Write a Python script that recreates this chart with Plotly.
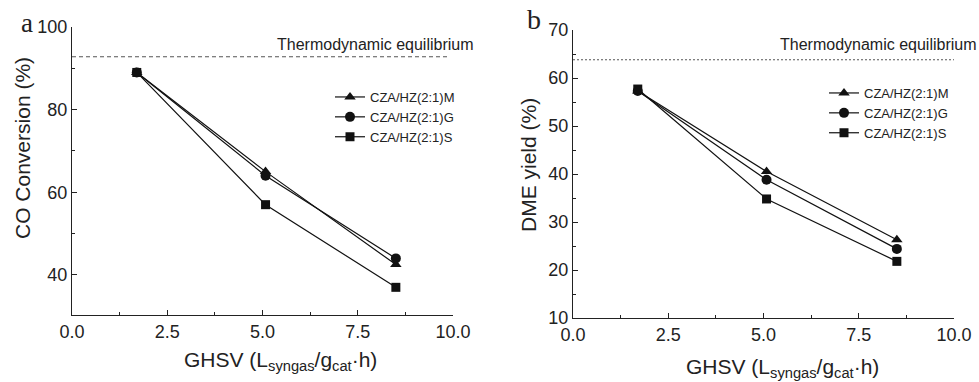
import plotly.graph_objects as go

W, H = 979, 382

ghsv = [1.7, 5.08, 8.5]
series_names = ["CZA/HZ(2:1)M", "CZA/HZ(2:1)G", "CZA/HZ(2:1)S"]
symbols = ["triangle-up", "circle", "square"]
co_conv_M = [89.0, 65.0, 42.5]
co_conv_G = [89.0, 64.0, 44.0]
co_conv_S = [89.0, 57.0, 37.0]
dme_M = [57.3, 40.5, 26.3]
dme_G = [57.3, 38.8, 24.4]
dme_S = [57.7, 34.8, 21.8]
co_equilibrium = 92.8
dme_equilibrium = 63.8
x_ticks = [0.0, 2.5, 5.0, 7.5, 10.0]
x_tick_labels = ["0.0", "2.5", "5.0", "7.5", "10.0"]
co_ticks = [40, 60, 80, 100]
dme_ticks = [10, 20, 30, 40, 50, 60, 70]

FONT = "Liberation Sans, Arial, sans-serif"
INK = "#222222"

fig = go.Figure()

left_series = [co_conv_M, co_conv_G, co_conv_S]
right_series = [dme_M, dme_G, dme_S]

for name, sym, ys in zip(series_names, symbols, left_series):
    fig.add_trace(go.Scatter(
        x=ghsv, y=ys, name=name, mode="lines+markers",
        line=dict(color="#111111", width=1.2),
        marker=dict(symbol=sym, size=10 if sym != "square" else 9, color="#111111"),
        xaxis="x", yaxis="y", legend="legend"))

for name, sym, ys in zip(series_names, symbols, right_series):
    fig.add_trace(go.Scatter(
        x=ghsv, y=ys, name=name, mode="lines+markers",
        line=dict(color="#111111", width=1.2),
        marker=dict(symbol=sym, size=10 if sym != "square" else 9, color="#111111"),
        xaxis="x2", yaxis="y2", legend="legend2"))

fig.add_trace(go.Scatter(x=[0.0, 9.9], y=[co_equilibrium, co_equilibrium], mode="lines",
                         line=dict(color="#555555", width=1.2, dash="4px,3px"),
                         showlegend=False, xaxis="x", yaxis="y", hoverinfo="skip"))
fig.add_trace(go.Scatter(x=[0.0, 10.0], y=[dme_equilibrium, dme_equilibrium], mode="lines",
                         line=dict(color="#555555", width=1.0, dash="2px,2px"),
                         showlegend=False, xaxis="x2", yaxis="y2", hoverinfo="skip"))

def px(x):
    return x / W

def py(y):
    return 1 - y / H

axis_common = dict(
    showline=True, linecolor=INK, linewidth=1.2, mirror=False,
    showgrid=False, zeroline=False, automargin=False,
    ticks="inside", ticklen=5, tickwidth=1, tickcolor=INK,
    tickfont=dict(family=FONT, size=18, color=INK),
)

fig.update_layout(
    width=W, height=H,
    margin=dict(l=0, r=0, t=0, b=0, pad=0, autoexpand=False),
    paper_bgcolor="white", plot_bgcolor="white",
    showlegend=True,
    xaxis=dict(domain=[px(72), px(453)], range=[0, 10], anchor="y",
               tickvals=x_ticks, ticktext=x_tick_labels,
               minor=dict(ticks="inside", ticklen=3, tickcolor=INK, dtick=1.25, tick0=0),
               **axis_common),
    yaxis=dict(domain=[py(315), py(27)], range=[30.3, 100], anchor="x",
               tickvals=co_ticks,
               minor=dict(ticks="inside", ticklen=3, tickcolor=INK, dtick=10, tick0=0),
               **axis_common),
    xaxis2=dict(domain=[px(573), px(954)], range=[0, 10], anchor="y2",
                tickvals=x_ticks, ticktext=x_tick_labels,
                minor=dict(ticks="inside", ticklen=3, tickcolor=INK, dtick=1.25, tick0=0),
                **axis_common),
    yaxis2=dict(domain=[py(318), py(30)], range=[10, 70], anchor="x2",
                tickvals=dme_ticks,
                minor=dict(ticks="inside", ticklen=3, tickcolor=INK, dtick=5, tick0=0),
                **axis_common),
    legend=dict(x=px(330), y=py(82), xanchor="left", yanchor="top",
                font=dict(family=FONT, size=13, color=INK),
                bgcolor="rgba(0,0,0,0)", itemwidth=30, tracegroupgap=0),
    legend2=dict(x=px(824), y=py(78), xanchor="left", yanchor="top",
                 font=dict(family=FONT, size=13, color=INK),
                 bgcolor="rgba(0,0,0,0)", itemwidth=30, tracegroupgap=0),
)

annotations = [
    dict(text="a", x=px(27), y=py(23), xanchor="center", yanchor="middle",
         font=dict(family="Liberation Serif, Times New Roman, serif", size=27, color=INK)),
    dict(text="b", x=px(534), y=py(20), xanchor="center", yanchor="middle",
         font=dict(family="Liberation Serif, Times New Roman, serif", size=28, color=INK)),
    dict(text="Thermodynamic equilibrium", x=px(476), y=py(44), xanchor="right", yanchor="middle",
         font=dict(family=FONT, size=16, color=INK)),
    dict(text="Thermodynamic equilibrium", x=px(979), y=py(45), xanchor="right", yanchor="middle",
         font=dict(family=FONT, size=16, color=INK)),
    dict(text="CO Conversion (%)", x=px(22), y=py(148), textangle=-90,
         xanchor="center", yanchor="middle", font=dict(family=FONT, size=21, color=INK)),
    dict(text="DME yield (%)", x=px(528), y=py(165), textangle=-90,
         xanchor="center", yanchor="middle", font=dict(family=FONT, size=21, color=INK)),
    dict(text="GHSV (L<sub>syngas</sub>/g<sub>cat</sub>·h)", x=px(280), y=py(361),
         xanchor="center", yanchor="middle", font=dict(family=FONT, size=21, color=INK)),
    dict(text="GHSV (L<sub>syngas</sub>/g<sub>cat</sub>·h)", x=px(782), y=py(368),
         xanchor="center", yanchor="middle", font=dict(family=FONT, size=21, color=INK)),
]
for a in annotations:
    a.update(xref="paper", yref="paper", showarrow=False)
fig.update_layout(annotations=annotations)

fig.write_html("out.html")
